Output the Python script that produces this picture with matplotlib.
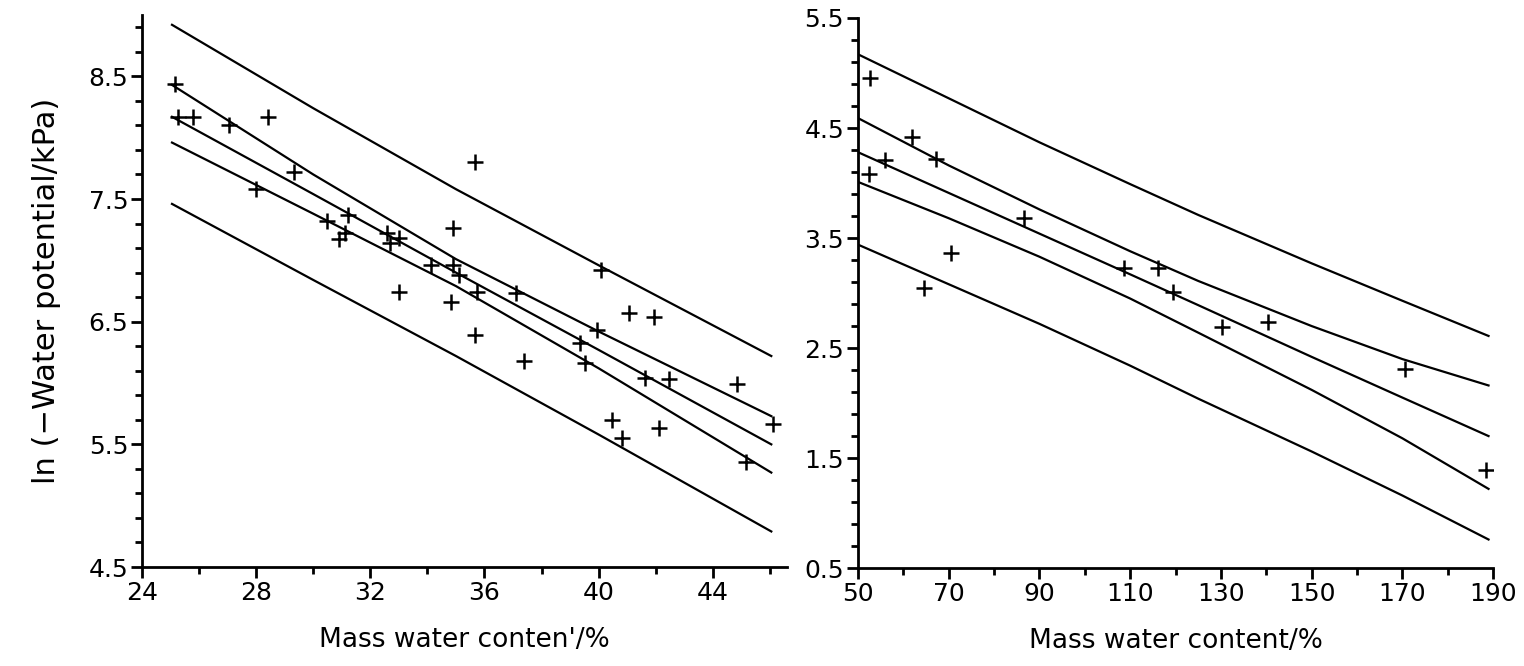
import matplotlib.pyplot as plt
import numpy as np

# left panel: measured points
left_x = [25.16, 25.26, 25.8, 27.05, 28.42, 28.0, 29.33, 30.49, 31.23, 30.9,
          31.12, 32.6, 32.7, 33.0, 33.02, 34.14, 34.88, 34.88, 35.1, 34.84,
          35.68, 35.75, 35.65, 37.09, 37.37, 39.33, 39.51, 39.93, 40.07, 41.05,
          41.93, 41.61, 42.46, 44.84, 40.46, 40.81, 42.1, 46.1, 45.16]
left_y = [8.44, 8.17, 8.17, 8.10, 8.17, 7.58, 7.72, 7.32, 7.37, 7.17,
          7.22, 7.22, 7.14, 7.18, 6.74, 6.96, 7.26, 6.96, 6.88, 6.66,
          7.80, 6.74, 6.39, 6.73, 6.18, 6.33, 6.16, 6.43, 6.92, 6.57,
          6.54, 6.04, 6.03, 5.99, 5.70, 5.55, 5.63, 5.67, 5.36]

# left panel: regression line with confidence and prediction bands
left_fit_x = [25.05, 30, 35, 40, 46.05]
left_pred_hi = [8.92, 8.24, 7.58, 6.96, 6.22]
left_conf_hi = [8.43, 7.70, 7.01, 6.42, 5.73]
left_fit = [8.17, 7.54, 6.90, 6.27, 5.50]
left_conf_lo = [7.96, 7.38, 6.79, 6.12, 5.27]
left_pred_lo = [7.46, 6.84, 6.22, 5.58, 4.79]

# right panel: measured points
right_x = [52.6, 52.4, 55.9, 61.9, 64.5, 67.2, 70.5, 86.6, 108.6, 116.1,
           119.4, 130.3, 140.3, 170.5, 188.5]
right_y = [4.95, 4.08, 4.21, 4.42, 3.05, 4.22, 3.36, 3.68, 3.23, 3.23,
           3.01, 2.69, 2.74, 2.31, 1.39]

# right panel: regression line with bands
right_fit_x = [50, 70, 90, 110, 125, 150, 170, 189]
right_pred_hi = [5.17, 4.77, 4.37, 3.99, 3.71, 3.27, 2.93, 2.61]
right_conf_hi = [4.59, 4.16, 3.76, 3.38, 3.11, 2.70, 2.40, 2.16]
right_fit = [4.28, 3.91, 3.54, 3.17, 2.89, 2.42, 2.05, 1.70]
right_conf_lo = [4.01, 3.68, 3.33, 2.95, 2.64, 2.12, 1.68, 1.22]
right_pred_lo = [3.44, 3.08, 2.72, 2.34, 2.04, 1.56, 1.16, 0.76]

fig = plt.figure(figsize=(15.24, 6.66), dpi=100)
ax1 = fig.add_axes([0.0932, 0.1486, 0.4232, 0.8289])
ax2 = fig.add_axes([0.563, 0.147, 0.4167, 0.826])


def style(ax, xlim, ylim, xmaj, xmin, ymaj, ymin):
    ax.set_xlim(*xlim)
    ax.set_ylim(*ylim)
    ax.set_xticks(xmaj)
    ax.set_xticks(xmin, minor=True)
    ax.set_yticks(ymaj)
    ax.set_yticks(ymin, minor=True)
    ax.set_xticklabels([str(v) for v in xmaj])
    ax.set_yticklabels([f"{v:.1f}" for v in ymaj])
    for s in ["top", "right"]:
        ax.spines[s].set_visible(False)
    for s in ["left", "bottom"]:
        ax.spines[s].set_linewidth(2.0)
    ax.tick_params(which="major", direction="out", length=8, width=2,
                   labelsize=18, pad=2)
    ax.tick_params(which="minor", direction="out", length=5, width=2)


for ax, xs, ys, fx, bands in [
    (ax1, left_x, left_y, left_fit_x,
     [left_pred_hi, left_conf_hi, left_fit, left_conf_lo, left_pred_lo]),
    (ax2, right_x, right_y, right_fit_x,
     [right_pred_hi, right_conf_hi, right_fit, right_conf_lo, right_pred_lo]),
]:
    for b in bands:
        ax.plot(fx, b, color="black", linewidth=1.6)
    ax.plot(xs, ys, linestyle="none", marker="+", markersize=11,
            markeredgewidth=1.8, color="black")

style(ax1, (24, 46.6), (4.5, 9.0), [24, 28, 32, 36, 40, 44],
      np.arange(26, 47, 4), [4.5, 5.5, 6.5, 7.5, 8.5],
      np.arange(4.5, 9.01, 0.2))
style(ax2, (50, 190), (0.5, 5.5), [50, 70, 90, 110, 130, 150, 170, 190],
      np.arange(60, 190, 20), [0.5, 1.5, 2.5, 3.5, 4.5, 5.5],
      np.arange(0.5, 5.51, 0.2))

ax1.set_xlabel("Mass water conten'/%", fontsize=19, labelpad=16)
ax2.set_xlabel("Mass water content/%", fontsize=19, labelpad=16)
ax1.set_ylabel("ln (\u2212Water potential/kPa)", fontsize=22, labelpad=20)

fig.savefig("out.png", dpi=100)
